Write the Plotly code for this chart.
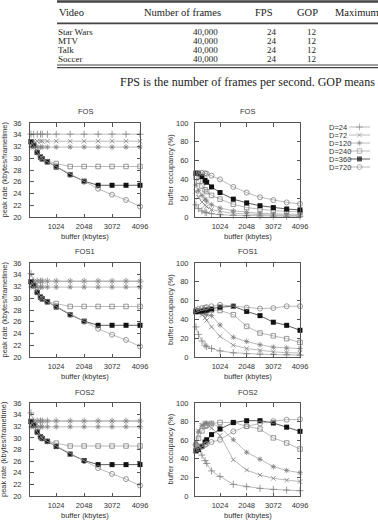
import plotly.graph_objects as go

W, H = 378, 523

# ---------------- data ----------------
table_columns = ["Video", "Number of frames", "FPS", "GOP", "Maximum"]
videos = ["Star Wars", "MTV", "Talk", "Soccer"]
num_frames = ["40,000", "40,000", "40,000", "40,000"]
fps = [24, 24, 24, 24]
gop = [12, 12, 12, 12]
caption = "FPS is the number of frames per second. GOP means"

buffer_kbytes = [100, 200, 330, 450, 512, 700, 1024, 1536, 2048, 2560, 3072, 3584, 4096]
x_tick_vals = [1024, 2048, 3072, 4096]
delay_labels = ["D=24", "D=72", "D=120", "D=240", "D=360", "D=720"]
panel_titles = ["FOS", "FOS1", "FOS2"]

# peak rate (kbytes/frametime); one list per delay D=24, 72, 120, 240, 360, 720
peak_rate_fos = [
    [34.1, 34.1, 34.1, 34.1, 34.1, 34.1, 34.1, 34.1, 34.1, 34.1, 34.1, 34.1, 34.1],
    [32.9, 32.9, 32.9, 32.9, 32.9, 32.9, 32.9, 32.9, 32.9, 32.9, 32.9, 32.9, 32.9],
    [31.9, 31.9, 31.9, 31.9, 31.9, 31.9, 31.9, 31.9, 31.9, 31.9, 31.9, 31.9, 31.9],
    [32.8, 32.2, 31.0, 30.2, 29.9, 29.4, 29.1, 28.6, 28.6, 28.6, 28.6, 28.6, 28.6],
    [32.8, 32.2, 31.0, 30.2, 29.9, 29.4, 28.5, 27.2, 26.1, 25.4, 25.4, 25.4, 25.4],
    [32.8, 32.2, 31.0, 30.2, 29.9, 29.4, 28.6, 27.2, 26.0, 24.8, 23.8, 22.9, 21.8],
]
peak_rate_fos1 = [
    [34.2, 32.9, 32.9, 32.9, 32.9, 32.9, 32.9, 32.9, 32.9, 32.9, 32.9, 32.9, 32.9],
    [32.9, 32.9, 32.9, 32.9, 32.9, 32.9, 32.9, 32.9, 32.9, 32.9, 32.9, 32.9, 32.9],
    [31.9, 31.9, 31.9, 31.9, 31.9, 31.9, 31.9, 31.9, 31.9, 31.9, 31.9, 31.9, 31.9],
    [32.8, 32.2, 31.0, 30.2, 29.9, 29.4, 29.1, 28.6, 28.6, 28.6, 28.6, 28.6, 28.6],
    [32.8, 32.2, 31.0, 30.2, 29.9, 29.4, 28.5, 27.2, 26.1, 25.4, 25.4, 25.4, 25.4],
    [32.8, 32.2, 31.0, 30.2, 29.9, 29.4, 28.6, 27.2, 26.0, 24.8, 23.8, 22.9, 21.8],
]
peak_rate_fos2 = [
    [34.3, 32.9, 32.9, 32.9, 32.9, 32.9, 32.9, 32.9, 32.9, 32.9, 32.9, 32.9, 32.9],
    [32.9, 32.9, 32.9, 32.9, 32.9, 32.9, 32.9, 32.9, 32.9, 32.9, 32.9, 32.9, 32.9],
    [31.9, 31.9, 31.9, 31.9, 31.9, 31.9, 31.9, 31.9, 31.9, 31.9, 31.9, 31.9, 31.9],
    [32.8, 32.2, 31.0, 30.2, 29.9, 29.4, 29.1, 28.6, 28.6, 28.6, 28.6, 28.6, 28.6],
    [32.8, 32.2, 31.0, 30.2, 29.9, 29.4, 28.5, 27.2, 26.1, 25.4, 25.4, 25.4, 25.4],
    [32.8, 32.2, 31.0, 30.2, 29.9, 29.4, 28.6, 27.2, 26.0, 24.8, 23.8, 22.9, 21.8],
]

# buffer occupancy (%)
occupancy_fos = [
    [13, 9, 6.5, 5, 4.5, 3.5, 2.5, 1.8, 1.4, 1.2, 1.0, 0.9, 0.8],
    [27, 21, 16, 12.5, 11, 8, 6, 4, 3, 2.5, 2, 1.8, 1.6],
    [34, 28, 23, 19, 17, 13, 9.5, 6.5, 5, 4, 3.3, 3, 2.7],
    [42, 38, 33, 29, 27, 23, 19, 13.5, 10, 8, 6.8, 6, 5.5],
    [46.5, 46, 43, 39, 37, 32, 26, 19, 15, 12, 10, 8.5, 7.5],
    [47, 47, 47, 46.5, 46, 44, 40, 32, 26, 21, 18, 15.5, 14],
]
occupancy_fos1 = [
    [32, 24, 17, 12.5, 11, 9, 6.5, 4.5, 3.5, 3, 2.6, 2.3, 2],
    [48, 47, 45, 41.5, 39, 32, 22, 12.5, 9, 7, 5.5, 4.6, 4.2],
    [48.5, 48, 47, 46, 45, 44, 34, 21, 16.5, 13, 10.5, 9.5, 8.9],
    [48, 49, 49, 50, 50, 50, 49.5, 45, 32.6, 25.5, 22.5, 19.5, 15.5],
    [48.5, 49, 49, 50, 50, 51, 53, 54, 48.5, 44, 37, 33.7, 28.4],
    [50, 51, 52, 52.5, 53, 54, 55.5, 54, 52.5, 51.5, 52, 54, 54],
]
occupancy_fos2 = [
    [55, 50, 44, 38, 35, 27, 21, 12.5, 10, 8.2, 7.1, 6.4, 5.7],
    [58, 70, 76, 78, 77, 73, 65, 39, 28, 22.5, 19, 17, 15.5],
    [56, 69, 76, 78.5, 78.5, 78, 74, 60.5, 47, 39.5, 31.5, 27.5, 25],
    [55, 62, 70, 75, 76, 78, 79, 79, 75, 72, 62.5, 57, 50.5],
    [48.5, 50, 53.5, 58, 60.5, 66, 72, 79, 81, 81, 78.5, 74, 69.5],
    [50, 51, 53, 55, 56, 58, 60.5, 69.5, 75, 78, 80.5, 82, 82.5],
]

# ---------------- styles ----------------
GRAY_LINE = "#a8a8a8"
GRAY_MARK = "#808080"
BLACK = "#111111"
AXIS_COL = "#555555"
TEXT_COL = "#333333"
SANS = "Liberation Sans, Arial, sans-serif"
SERIF = "Liberation Serif, Times New Roman, serif"
FS = 7.5

series_styles = [
    dict(symbol="cross-thin-open", size=5, mcol=GRAY_MARK, lcol=GRAY_LINE),
    dict(symbol="x-thin-open", size=4.5, mcol=GRAY_MARK, lcol=GRAY_LINE),
    dict(symbol="asterisk-open", size=4.5, mcol=GRAY_MARK, lcol=GRAY_LINE),
    dict(symbol="square-open", size=4.5, mcol=GRAY_MARK, lcol=GRAY_LINE),
    dict(symbol="square", size=5, mcol=BLACK, lcol="#333333"),
    dict(symbol="circle-open", size=5, mcol=GRAY_MARK, lcol=GRAY_LINE),
]


def px(x):
    return x / W


def py(y):
    return 1 - y / H


# panel geometry in pixels
col_x = [(30, 140), (195, 300)]
row_y = [(123, 217), (263, 357), (403, 496)]

panels = [
    (0, 0, peak_rate_fos), (0, 1, occupancy_fos),
    (1, 0, peak_rate_fos1), (1, 1, occupancy_fos1),
    (2, 0, peak_rate_fos2), (2, 1, occupancy_fos2),
]

fig = go.Figure()
layout_axes = {}
annotations = []

for idx, (r, c, data) in enumerate(panels):
    k = idx + 1
    xs = "" if k == 1 else str(k)
    for si, (label, ys) in enumerate(zip(delay_labels, data)):
        st = series_styles[si]
        filled = st["symbol"] == "square"
        fig.add_trace(go.Scatter(
            x=buffer_kbytes, y=ys, mode="lines+markers", name=label,
            xaxis="x" + xs, yaxis="y" + xs, showlegend=False, cliponaxis=False,
            line=dict(color=st["lcol"], width=0.8),
            marker=dict(symbol=st["symbol"], size=st["size"], color=st["mcol"],
                        line=dict(color=st["mcol"], width=0 if filled else 0.8)),
        ))
    x0, x1 = col_x[c]
    y0, y1 = row_y[r]
    common = dict(showline=True, linecolor=AXIS_COL, linewidth=1, mirror="ticks",
                  ticks="inside", ticklen=3.5, tickwidth=0.8, tickcolor=AXIS_COL,
                  showgrid=False, zeroline=False,
                  tickfont=dict(family=SANS, size=FS, color=TEXT_COL))
    layout_axes["xaxis" + xs] = dict(domain=[px(x0), px(x1)], anchor="y" + xs,
                                     range=[64, 4096], tickvals=x_tick_vals,
                                     ticklabelstandoff=2, **common)
    if c == 0:
        layout_axes["yaxis" + xs] = dict(domain=[py(y1), py(y0)], anchor="x" + xs,
                                         range=[20, 36], dtick=2, tick0=20,
                                         ticklabelstandoff=6, **common)
    else:
        layout_axes["yaxis" + xs] = dict(domain=[py(y1), py(y0)], anchor="x" + xs,
                                         range=[0, 100], dtick=20, tick0=0,
                                         ticklabelstandoff=4, **common)
    cx = (x0 + x1) / 2
    annotations.append(dict(text=panel_titles[r], x=px(cx), y=py(y0 - 11), xref="paper", yref="paper",
                            showarrow=False, xanchor="center", yanchor="middle",
                            font=dict(family=SANS, size=FS, color=TEXT_COL)))
    annotations.append(dict(text="buffer (kbytes)", x=px(cx), y=py(y1 + 19), xref="paper", yref="paper",
                            showarrow=False, xanchor="center", yanchor="middle",
                            font=dict(family=SANS, size=FS, color=TEXT_COL)))
    ytitle = "peak rate (kbytes/frametime)" if c == 0 else "buffer occupancy (%)"
    ytx = 3.5 if c == 0 else 170
    annotations.append(dict(text=ytitle, x=px(ytx), y=py((y0 + y1) / 2), xref="paper", yref="paper",
                            showarrow=False, textangle=-90, xanchor="center", yanchor="middle",
                            font=dict(family=SANS, size=FS, color=TEXT_COL)))

# ---------------- custom legend (key) ----------------
layout_axes["xaxis7"] = dict(domain=[px(349), px(370)], anchor="y7", range=[0, 1], visible=False)
layout_axes["yaxis7"] = dict(domain=[py(171), py(123)], anchor="x7", range=[5.5, -0.5], visible=False)
for si, label in enumerate(delay_labels):
    st = series_styles[si]
    filled = st["symbol"] == "square"
    fig.add_trace(go.Scatter(
        x=[0, 0.5, 1], y=[si, si, si], mode="lines+markers", xaxis="x7", yaxis="y7",
        showlegend=False, cliponaxis=False, hoverinfo="skip",
        line=dict(color=st["lcol"], width=0.8),
        marker=dict(symbol=st["symbol"], size=[0, st["size"], 0], color=st["mcol"],
                    line=dict(color=st["mcol"], width=0 if filled else 0.8)),
    ))
    annotations.append(dict(text=label, x=px(327), y=si, xref="paper", yref="y7",
                            showarrow=False, xanchor="left", yanchor="middle",
                            font=dict(family=SANS, size=FS, color=TEXT_COL)))

# ---------------- table ----------------
HFS = 10.5
RFS = 9
col_specs = [57, 142, 253, 295, 333]
for xpos, name in zip(col_specs, table_columns):
    annotations.append(dict(text=name, x=px(xpos), y=py(12), xref="paper", yref="paper",
                            showarrow=False, xanchor="left", yanchor="middle",
                            font=dict(family=SERIF, size=HFS, color="#222")))
row_centers = [32.0, 41.1, 50.2, 59.3]
for yc, v, nf, f, g in zip(row_centers, videos, num_frames, fps, gop):
    for text, xpos, anc in [(v, 57, "left"), (nf, 219, "right"), (str(f), 278, "right"), (str(g), 317, "right")]:
        annotations.append(dict(text=text, x=px(xpos), y=py(yc), xref="paper", yref="paper",
                                showarrow=False, xanchor=anc, yanchor="middle", borderpad=0,
                                font=dict(family=SERIF, size=RFS, color="#222")))
annotations.append(dict(text=caption, x=px(118), y=py(82), xref="paper", yref="paper",
                        showarrow=False, xanchor="left", yanchor="middle",
                        font=dict(family=SERIF, size=12, color="#222")))

rules = [(1.5, 2.5), (23.3, 1.8), (65.0, 1.2), (67.6, 1.4)]
shapes = [dict(type="line", xref="paper", yref="paper", x0=px(57), x1=px(W + 5), y0=py(yy), y1=py(yy),
               line=dict(color="#444", width=lw)) for yy, lw in rules]

fig.update_layout(
    width=W, height=H, margin=dict(l=0, r=0, t=0, b=0),
    paper_bgcolor="white", plot_bgcolor="white", template="none",
    font=dict(family=SANS, size=FS, color=TEXT_COL),
    annotations=annotations, shapes=shapes, showlegend=False,
    **layout_axes,
)

fig.write_html("out.html", config={"displayModeBar": False})
